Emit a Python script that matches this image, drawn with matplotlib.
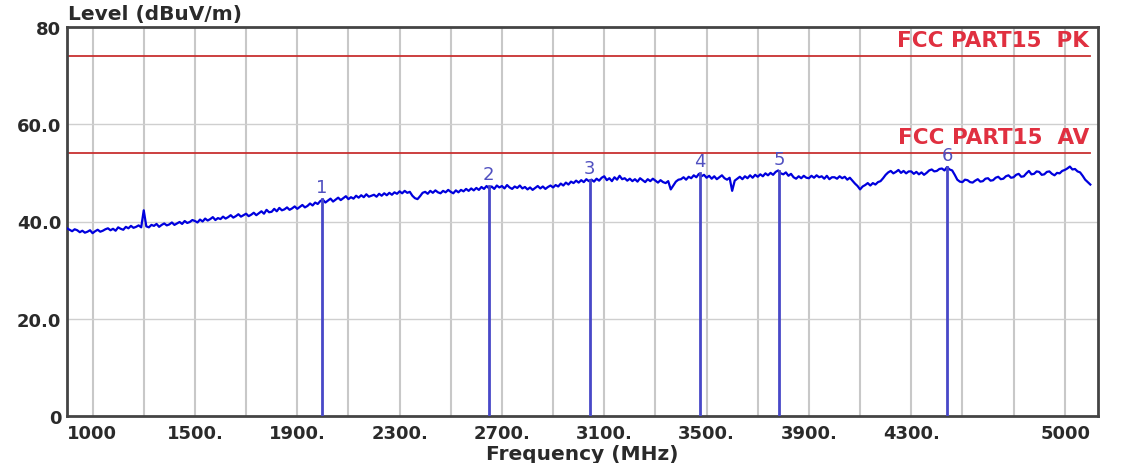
import matplotlib
matplotlib.use("Agg")
import matplotlib.pyplot as plt
import numpy as np

# sweep 1000-5000 MHz, one reading every 10 MHz (one row = 100 MHz)
FREQ_START = 1000
FREQ_STEP = 10
LEVELS = [
    38.6, 38.3, 38.0, 38.4, 38.2, 37.8, 38.1, 37.7, 37.9, 38.2,
    37.6, 38.0, 38.3, 37.9, 38.1, 38.4, 38.6, 38.2, 38.5, 38.1,
    38.8, 38.5, 38.3, 38.9, 38.6, 39.1, 38.7, 38.9, 39.2, 38.8,
    42.3, 39.0, 38.8, 39.3, 39.1, 39.5, 38.9, 39.3, 39.6, 39.2,
    39.4, 39.8, 39.3, 39.6, 39.9, 39.5, 40.1, 39.7, 39.9, 40.3,
    40.1, 39.8, 40.4, 40.0, 40.6, 40.2, 40.5, 40.9, 40.3, 40.7,
    40.5, 41.0, 40.6, 40.9, 41.3, 40.8, 41.1, 41.5, 41.0, 41.3,
    41.6, 41.1, 41.4, 41.8, 41.3, 41.7, 42.1, 41.6, 42.4, 41.9,
    42.0, 42.6, 42.1, 42.8, 42.3, 42.5, 42.9, 42.4, 42.7, 43.1,
    42.6, 43.0, 43.4, 42.9, 43.2, 43.7, 43.3, 43.9, 43.6, 44.2,
    44.5, 43.9, 44.3, 44.7, 44.1, 44.5, 44.9, 44.4, 44.8, 45.2,
    44.6, 45.0, 44.7, 45.3, 44.9, 45.4, 45.0, 45.6, 45.1, 45.3,
    45.5, 45.1, 45.7, 45.3, 45.8, 45.4, 45.9, 45.5, 46.0, 45.7,
    46.2, 45.8, 46.3, 45.9, 46.1, 45.3, 44.8, 44.6, 45.2, 45.9,
    46.1, 45.7, 46.3, 45.9, 46.4, 46.0, 45.8, 46.3, 46.0, 46.5,
    46.1, 45.8, 46.4, 46.0, 46.5, 46.2, 46.7, 46.3, 46.8, 46.4,
    46.9, 46.5, 47.1, 46.7, 47.3, 46.8, 47.2, 46.7, 47.4, 47.0,
    47.3, 46.8, 47.5, 47.0, 46.7, 47.2, 46.9, 47.4, 46.8, 47.1,
    46.6, 47.0, 46.5, 46.9, 47.3, 46.8, 47.2, 46.7, 47.1, 47.4,
    47.0, 47.5, 47.2, 47.8, 47.4, 48.0, 47.6, 48.2, 47.9, 48.4,
    48.0, 48.5, 48.1, 48.7, 48.3, 48.6, 48.2, 48.8, 48.4, 49.0,
    49.3, 48.5, 48.9, 48.3, 49.1, 48.6, 49.4, 48.7, 48.9, 48.4,
    48.8, 48.3, 48.7, 48.2, 48.9, 48.5, 48.1, 48.7, 48.3, 48.8,
    48.4, 48.0, 48.5, 48.1, 47.9, 48.3, 46.6, 47.4, 48.2, 48.6,
    48.7, 49.1, 48.6, 49.2, 48.9, 49.5, 49.1, 49.8, 49.3, 49.6,
    49.0, 49.4, 48.8, 49.3, 48.7, 49.1, 49.5, 48.9, 48.6, 49.0,
    46.3, 48.4, 48.8, 49.2, 48.7, 49.3, 48.9, 49.5, 49.0, 49.6,
    49.2, 49.7, 49.3, 49.9, 49.5, 50.0, 49.6, 50.2, 50.5, 49.9,
    49.7, 50.1, 49.4, 49.8, 49.1, 48.8, 49.3, 48.9, 49.4, 49.0,
    48.9, 49.4, 49.0, 49.5, 49.1, 49.3, 48.8, 49.4, 48.7, 49.1,
    49.1, 48.8, 49.3, 48.9, 49.2, 48.6, 49.0, 48.4, 47.8, 47.3,
    46.6, 47.2, 47.5, 47.9, 47.4, 47.9, 47.6, 48.1, 48.3, 48.9,
    49.6, 50.1, 50.4, 49.9, 50.2, 50.6, 50.0, 50.4, 49.9, 50.3,
    50.3, 49.8, 50.2, 49.7, 50.1, 49.6, 50.0, 50.5, 50.7, 50.3,
    50.4, 50.8, 50.9, 50.5, 51.2, 50.7, 50.5, 49.6, 48.6, 48.2,
    48.1, 48.6, 48.5, 48.1, 48.0, 48.4, 48.7, 48.2, 48.3, 48.8,
    48.9, 48.4, 48.5, 49.0, 49.2, 48.7, 48.8, 49.3, 49.5, 49.0,
    49.1, 49.6, 49.8, 49.2, 49.3, 49.9, 50.4, 49.7, 49.8, 50.3,
    50.2, 49.6, 49.7, 50.2, 50.3, 49.8, 49.5, 50.0, 49.9, 50.4,
    50.6, 50.9, 51.3, 50.7, 50.8, 50.3, 50.1, 49.4, 48.6, 48.1,
    47.6,
]

LIMIT_NAMES = ["FCC PART15  PK", "FCC PART15  AV"]
LIMIT_LEVELS = [74.0, 54.0]

MARKER_IDS = ["1", "2", "3", "4", "5", "6"]
MARKER_FREQS = [1997, 2648, 3043, 3475, 3785, 4441]
MARKER_LEVELS = [44.6, 47.3, 48.6, 50.0, 50.4, 51.2]

XTICKS = [1000, 1500, 1900, 2300, 2700, 3100, 3500, 3900, 4300, 5000]
XTICK_LABELS = ["1000", "1500.", "1900.", "2300.", "2700.", "3100.",
                "3500.", "3900.", "4300.", "5000"]
YTICKS = [0, 20, 40, 60, 80]
YTICK_LABELS = ["0", "20.0", "40.0", "60.0", "80"]
XGRID = list(range(1100, 5000, 200))

freqs = FREQ_START + FREQ_STEP * np.arange(len(LEVELS))
f_end = freqs[-1]

fig = plt.figure(figsize=(11.23, 4.64), dpi=100)
ax = fig.add_axes([67 / 1123, 47 / 464, 1031 / 1123, 389 / 464])
ax.set_xlim(1000, 5030)
ax.set_ylim(0, 80)

for x in XGRID:
    ax.axvline(x, color="#c8c8c8", lw=1.5, zorder=1)
for y in YTICKS[1:-1]:
    ax.axhline(y, color="#cfcfcf", lw=1.0, zorder=1)

for name, lvl in zip(LIMIT_NAMES, LIMIT_LEVELS):
    ax.plot([FREQ_START, f_end], [lvl, lvl], color="#c83030", lw=1.3, zorder=2)
    ax.text(f_end - 6, lvl + 1.3, name, color="#e03040", fontsize=15.5,
            fontweight="bold", ha="right", va="bottom", zorder=4)

ax.plot(freqs, LEVELS, color="#0000dd", lw=1.6, zorder=3)

for mid, mf, ml in zip(MARKER_IDS, MARKER_FREQS, MARKER_LEVELS):
    ax.plot([mf, mf], [0, ml], color="#4848c8", lw=2, zorder=3)
    ax.text(mf, ml + 0.6, mid, color="#5050c0", fontsize=13,
            ha="center", va="bottom", zorder=4)

ax.set_xticks(XTICKS)
ax.set_xticklabels(XTICK_LABELS)
ax.set_yticks(YTICKS)
ax.set_yticklabels(YTICK_LABELS)
ax.tick_params(length=0, labelsize=13, labelcolor="#2a2a2a")
ax.tick_params(axis="x", pad=6)
ax.tick_params(axis="y", pad=4)
for lab in ax.get_xticklabels() + ax.get_yticklabels():
    lab.set_fontweight("bold")
xlabs = ax.get_xticklabels()
xlabs[0].set_ha("left")
xlabs[-1].set_ha("right")

for sp in ax.spines.values():
    sp.set_color("#444444")
    sp.set_linewidth(2)

ax.set_xlabel("Frequency (MHz)", fontsize=14.5, fontweight="bold",
              color="#2a2a2a", labelpad=1)
ax.annotate("Level (dBuV/m)", xy=(0, 1), xycoords="axes fraction",
            xytext=(1, 3), textcoords="offset points", ha="left", va="bottom",
            fontsize=14.5, fontweight="bold", color="#2a2a2a")

fig.savefig("out.png", dpi=100)
